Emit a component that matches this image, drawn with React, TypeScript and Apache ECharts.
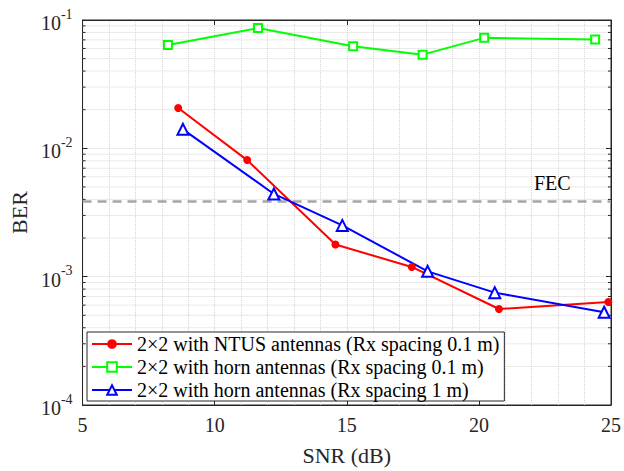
import React, { useEffect, useRef } from "react";
import * as echarts from "echarts";

const FONT = "'Liberation Serif', 'Times New Roman', serif";

// Series data
const snrNtus = [8.62, 11.23, 14.57, 17.46, 20.76, 24.9];
const berNtus = [0.0206, 0.0081, 0.00178, 0.00119, 0.00056, 0.000634];

const snrHorn01 = [8.23, 11.64, 15.24, 17.87, 20.2, 24.4];
const berHorn01 = [0.0638, 0.0865, 0.0624, 0.0537, 0.0726, 0.0705];

const snrHorn1 = [8.8, 12.24, 14.83, 18.06, 20.6, 24.74];
const berHorn1 = [0.01406, 0.00441, 0.00251, 0.0011, 0.000751, 0.000528];

const fecLevel = 0.00385;
const fecText = "FEC";

const seriesNames = [
  "2×2 with NTUS antennas (Rx spacing 0.1 m)",
  "2×2 with horn antennas (Rx spacing 0.1 m)",
  "2×2 with horn antennas (Rx spacing 1 m)",
];

// Axis ranges / ticks
const xMin = 5;
const xMax = 25;
const xStep = 5;
const yMin = 1e-4;
const yMax = 1e-1;
const decades = [1e-4, 1e-3, 1e-2];
const minorMultipliers = [2, 3, 4, 5, 6, 7, 8, 9];

const zip = (xs: number[], ys: number[]) => xs.map((x, i) => [x, ys[i]]);

export default function App() {
  const ref = useRef<HTMLDivElement>(null);

  useEffect(() => {
    if (!ref.current) return;
    const chart = echarts.init(ref.current, null, { renderer: "svg" });

    const minorValues: number[] = [];
    decades.forEach((d) => minorMultipliers.forEach((m) => minorValues.push(d * m)));

    const gridColor = "#d4d4d4";
    const gridLine = { color: gridColor, type: "dotted" as const, width: 1 };
    const axisColor = "#262626";

    const option: any = {
      animation: false,
      backgroundColor: "#ffffff",
      textStyle: { fontFamily: FONT },
      grid: {
        left: 80,
        right: 11,
        top: 20,
        bottom: 59,
        show: true,
        borderColor: axisColor,
        borderWidth: 1,
      },
      legend: {
        data: seriesNames,
        orient: "vertical",
        left: 87,
        top: 332,
        backgroundColor: "#ffffff",
        borderColor: axisColor,
        borderWidth: 1,
        borderRadius: 0,
        padding: [2, 5, 1, 4],
        itemGap: 3,
        itemWidth: 40,
        itemHeight: 12,
        textStyle: { fontFamily: FONT, fontSize: 20, color: "#000" },
      },
      xAxis: [
        {
          type: "value",
          min: xMin,
          max: xMax,
          interval: xStep,
          position: "bottom",
          name: "SNR (dB)",
          nameLocation: "middle",
          nameGap: 39,
          nameTextStyle: { fontFamily: FONT, fontSize: 22, color: axisColor },
          axisLine: { show: true, lineStyle: { color: axisColor, width: 1 } },
          axisTick: { show: true, inside: true, length: 5, lineStyle: { color: axisColor } },
          axisLabel: { fontFamily: FONT, fontSize: 20, color: axisColor, margin: 10 },
          splitLine: { show: true, lineStyle: gridLine },
          minorTick: { show: false, splitNumber: 5 },
          minorSplitLine: { show: true, lineStyle: gridLine },
        },
        {
          type: "value",
          min: xMin,
          max: xMax,
          interval: xStep,
          position: "top",
          axisLine: { show: true, lineStyle: { color: axisColor, width: 1 } },
          axisTick: { show: true, inside: true, length: 5, lineStyle: { color: axisColor } },
          axisLabel: { show: false },
          splitLine: { show: false },
        },
      ],
      yAxis: [
        {
          type: "log",
          logBase: 10,
          min: yMin,
          max: yMax,
          position: "left",
          name: "BER",
          nameLocation: "middle",
          nameGap: 51,
          nameTextStyle: { fontFamily: FONT, fontSize: 22, color: axisColor },
          axisLine: { show: true, lineStyle: { color: axisColor, width: 1 } },
          axisTick: { show: true, inside: true, length: 5, lineStyle: { color: axisColor } },
          axisLabel: {
            margin: 10,
            formatter: (v: number) => `{b|10}{s|${Math.round(Math.log10(v))}}`,
            rich: {
              b: { fontFamily: FONT, fontSize: 20, color: axisColor, verticalAlign: "bottom", lineHeight: 26 },
              s: { fontFamily: FONT, fontSize: 14, color: axisColor, verticalAlign: "top", lineHeight: 26 },
            },
          },
          splitLine: { show: true, lineStyle: gridLine },
        },
        {
          type: "log",
          logBase: 10,
          min: yMin,
          max: yMax,
          position: "right",
          axisLine: { show: true, lineStyle: { color: axisColor, width: 1 } },
          axisTick: { show: true, inside: true, length: 5, lineStyle: { color: axisColor } },
          axisLabel: { show: false },
          splitLine: { show: false },
        },
      ],
      series: [
        {
          name: "minor-grid",
          type: "custom",
          silent: true,
          z: 1,
          encode: { x: 0, y: 1 },
          data: minorValues.map((v) => [xMin, v]),
          renderItem: (_params: any, api: any) => {
            const v = api.value(1);
            const p1 = api.coord([xMin, v]);
            const p2 = api.coord([xMax, v]);
            return {
              type: "group",
              children: [
                {
                  type: "line",
                  shape: { x1: p1[0], y1: p1[1], x2: p2[0], y2: p2[1] },
                  style: { stroke: gridColor, lineWidth: 1, lineDash: [1, 1] },
                },
                {
                  type: "line",
                  shape: { x1: p1[0], y1: p1[1], x2: p1[0] + 3, y2: p1[1] },
                  style: { stroke: axisColor, lineWidth: 1 },
                },
                {
                  type: "line",
                  shape: { x1: p2[0] - 3, y1: p2[1], x2: p2[0], y2: p2[1] },
                  style: { stroke: axisColor, lineWidth: 1 },
                },
              ],
            };
          },
        },
        {
          name: "fec",
          type: "line",
          silent: true,
          z: 2,
          data: [
            [xMin, fecLevel],
            [xMax, fecLevel],
          ],
          symbol: "none",
          lineStyle: { color: "#a6a6a6", type: [9, 6], width: 2.5 },
          endLabel: {
            show: true,
            formatter: fecText,
            fontFamily: FONT,
            fontSize: 20,
            color: "#000",
            offset: [-85, -19],
          },
        },
        {
          name: seriesNames[0],
          type: "line",
          data: zip(snrNtus, berNtus),
          color: "#ff0000",
          symbol: "circle",
          symbolSize: 8,
          lineStyle: { width: 2, color: "#ff0000" },
          itemStyle: { color: "#ff0000" },
          z: 3,
        },
        {
          name: seriesNames[1],
          type: "line",
          data: zip(snrHorn01, berHorn01),
          color: "#00ff00",
          symbol: "emptyRect",
          symbolSize: 8,
          lineStyle: { width: 2, color: "#00ff00" },
          itemStyle: { color: "#00ff00", borderWidth: 2 },
          z: 3,
        },
        {
          name: seriesNames[2],
          type: "line",
          data: zip(snrHorn1, berHorn1),
          color: "#0000ff",
          symbol: "emptyTriangle",
          symbolSize: 11,
          lineStyle: { width: 2, color: "#0000ff" },
          itemStyle: { color: "#0000ff", borderWidth: 2 },
          z: 3,
        },
      ],
    };

    chart.setOption(option);
    return () => chart.dispose();
  }, []);

  return (
    <div
      ref={ref}
      style={{ position: "absolute", left: 0, top: 0, width: 624, height: 471 }}
    />
  );
}
